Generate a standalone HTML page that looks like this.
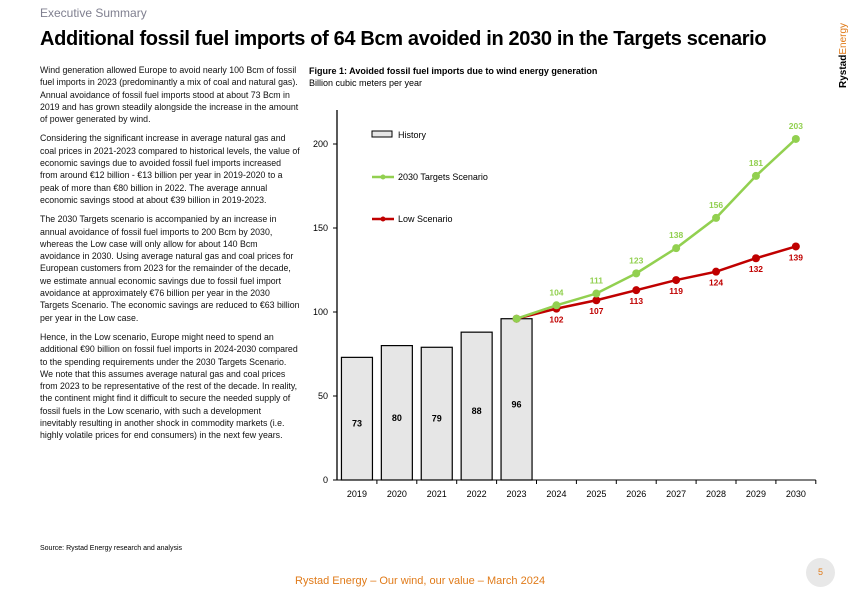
<!DOCTYPE html>
<html><head><meta charset="utf-8"><style>
body{margin:0;width:867px;height:600px;background:#fff;font-family:"Liberation Sans",sans-serif;position:relative;overflow:hidden}
.abs{position:absolute}
#body p{margin:0 0 7px 0}
</style></head><body>
<div class="abs" style="left:40px;top:6px;font-size:12px;color:#7f7f8f">Executive Summary</div>
<div class="abs" style="left:40px;top:28px;font-size:20px;font-weight:bold;color:#000;letter-spacing:-0.35px;white-space:nowrap">Additional fossil fuel imports of 64 Bcm avoided in 2030 in the Targets scenario</div>
<div class="abs" style="left:838px;top:88px;transform:rotate(-90deg);transform-origin:left top;font-size:10px;font-weight:bold;white-space:nowrap">Rystad<span style="color:#e07b1a;font-weight:normal">Energy</span></div>
<div id="body" class="abs" style="left:40px;top:64px;width:260px;font-size:8.8px;line-height:12.3px;color:#111">
<p>Wind generation allowed Europe to avoid nearly 100 Bcm of fossil fuel imports in 2023 (predominantly a mix of coal and natural gas). Annual avoidance of fossil fuel imports stood at about 73 Bcm in 2019 and has grown steadily alongside the increase in the amount of power generated by wind.</p>
<p>Considering the significant increase in average natural gas and coal prices in 2021-2023 compared to historical levels, the value of economic savings due to avoided fossil fuel imports increased from around €12 billion - €13 billion per year in 2019-2020 to a peak of more than €80 billion in 2022. The average annual economic savings stood at about €39 billion in 2019-2023.</p>
<p>The 2030 Targets scenario is accompanied by an increase in annual avoidance of fossil fuel imports to 200 Bcm by 2030, whereas the Low case will only allow for about 140 Bcm avoidance in 2030. Using average natural gas and coal prices for European customers from 2023 for the remainder of the decade, we estimate annual economic savings due to fossil fuel import avoidance at approximately €76 billion per year in the 2030 Targets Scenario. The economic savings are reduced to €63 billion per year in the Low case.</p>
<p>Hence, in the Low scenario, Europe might need to spend an additional €90 billion on fossil fuel imports in 2024-2030 compared to the spending requirements under the 2030 Targets Scenario. We note that this assumes average natural gas and coal prices from 2023 to be representative of the rest of the decade. In reality, the continent might find it difficult to secure the needed supply of fossil fuels in the Low scenario, with such a development inevitably resulting in another shock in commodity markets (i.e. highly volatile prices for end consumers) in the next few years.</p>
</div>
<div class="abs" style="left:309px;top:66px;font-size:9px;font-weight:bold">Figure 1: Avoided fossil fuel imports due to wind energy generation</div>
<div class="abs" style="left:309px;top:78px;font-size:9px">Billion cubic meters per year</div>
<svg class="abs" style="left:0;top:0" width="867" height="600" font-family="Liberation Sans, sans-serif">
<g id="g"></g>
</svg>
<div class="abs" style="left:40px;top:545px;font-size:7px">Source: Rystad Energy research and analysis</div>
<div class="abs" style="left:295px;top:575px;font-size:11px;color:#e07b1a">Rystad Energy – Our wind, our value – March 2024</div>
<div class="abs" style="left:806px;top:558px;width:29px;height:29px;border-radius:50%;background:#e8e8e8;color:#e07b1a;font-size:9px;text-align:center;line-height:29px">5</div>
<script>
const years=["2019","2020","2021","2022","2023","2024","2025","2026","2027","2028","2029","2030"];
const history=[73,80,79,88,96];
const targets=[null,null,null,null,96,104,111,123,138,156,181,203];
const low=[null,null,null,null,96,102,107,113,119,124,132,139];
const yTicks=[0,50,100,150,200];
const NS="http://www.w3.org/2000/svg";
const g=document.getElementById('g');
const X0=337,STEP=39.9,Y0=480,SC=1.68;
const xc=i=>X0+STEP/2+STEP*i, y=v=>Y0-v*SC;
function mk(t,a,p){const e=document.createElementNS(NS,t);for(const k in a)e.setAttribute(k,a[k]);(p||g).appendChild(e);return e;}
let e;
e=mk('line',{x1:X0,y1:110,x2:X0,y2:Y0,stroke:'#000','stroke-width':1.3});


e=mk('line',{x1:X0,y1:Y0,x2:X0+STEP*12,y2:Y0,stroke:'#000','stroke-width':1});


yTicks.forEach(v=>{
 mk('line',{x1:X0-4,y1:y(v),x2:X0,y2:y(v),stroke:'#000'});
 e=mk('text',{x:X0-9,y:y(v)+3,'text-anchor':'end','font-size':9});e.textContent=v;
 
 
});
years.forEach((yr,i)=>{
 mk('line',{x1:X0+STEP*(i+1),y1:Y0,x2:X0+STEP*(i+1),y2:Y0+4,stroke:'#000'});
 e=mk('text',{x:xc(i),y:Y0+17,'text-anchor':'middle','font-size':9});e.textContent=yr;
 
 
});
history.forEach((v,i)=>{
 e=mk('rect',{x:xc(i)-15.5,y:y(v),width:31,height:v*SC,fill:'#e6e6e6',stroke:'#000','stroke-width':1.2});
 
 
 e=mk('text',{x:xc(i),y:Y0-v*SC/2+8,'text-anchor':'middle','font-size':9,'font-weight':'bold'});e.textContent=v;
 
 
});
function series(arr,col,name,off){
 const pts=[];arr.forEach((v,i)=>{if(v!=null)pts.push([xc(i),y(v),v,i]);});
 e=mk('polyline',{points:pts.map(p=>p[0]+','+p[1]).join(' '),fill:'none',stroke:col,'stroke-width':2.5});
 
 
 pts.forEach(p=>{
  e=mk('circle',{cx:p[0],cy:p[1],r:4,fill:col});
  
  
  if(p[3]>4){e=mk('text',{x:p[0],y:p[1]+off,'text-anchor':'middle','font-size':8.5,'font-weight':'bold',fill:col});e.textContent=p[2];
  
  }
 });
}
series(low,'#c00000','low-scenario',14);
series(targets,'#92d050','targets-scenario',-10);
e=mk('rect',{x:372,y:131,width:20,height:6,fill:'#e6e6e6',stroke:'#000'});


e=mk('text',{x:398,y:138,'font-size':9});e.textContent='History';


[['#92d050','2030 Targets Scenario',177,'legend-targets'],['#c00000','Low Scenario',219,'legend-low']].forEach(l=>{
 mk('line',{x1:372,y1:l[2],x2:394,y2:l[2],stroke:l[0],'stroke-width':2.5});
 mk('circle',{cx:383,cy:l[2],r:2.5,fill:l[0]});
 e=mk('text',{x:398,y:l[2]+3,'font-size':9});e.textContent=l[1];
 
 
});
</script>
</body></html>
